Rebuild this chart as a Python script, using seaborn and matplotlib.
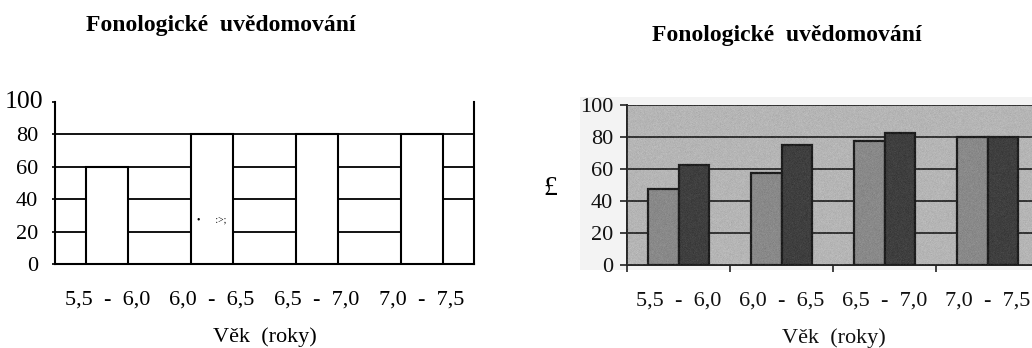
import numpy as np
import pandas as pd
import matplotlib
matplotlib.use("Agg")
import matplotlib.pyplot as plt
import matplotlib.transforms as mtransforms
import seaborn as sns
from matplotlib.patches import Rectangle

sns.set_theme(style="white")
plt.rcParams["font.family"] = ["Liberation Serif", "DejaVu Serif"]

# ---- data -------------------------------------------------------------
categories = ["5,5  -  6,0", "6,0  -  6,5", "6,5  -  7,0", "7,0  -  7,5"]
left_values = [60, 80, 80, 80]
series_a = [47.5, 57.5, 77.5, 80]
series_b = [62.5, 75, 82.5, 80]
series_names = ["A", "B"]
y_ticks = [0, 20, 40, 60, 80, 100]
grid_levels = [20, 40, 60, 80]

title = "Fonologické  uvědomování"
xlabel = "Věk  (roky)"

TICK_FS = 16
TITLE_FS = 17

fig = plt.figure(figsize=(10.32, 3.48), dpi=100)
fig.patch.set_facecolor("white")

# ---- left panel: outlined bars over a plain grid -----------------------
axL = fig.add_axes([55 / 1032, 1 - 264 / 348, 419 / 1032, 162 / 348])
axL.set_facecolor("white")
sns.barplot(x=categories, y=left_values, color="white", edgecolor="black",
            linewidth=1.5, width=0.4, saturation=1, ax=axL, zorder=3)
axL.set_xlim(-0.5, 3.5)
axL.set_ylim(0, 100)
for lvl in grid_levels:
    # the 20 line stops under the last bar
    end = 3.0 if lvl == 20 else 3.5
    axL.hlines(lvl, -0.5, end, color="black", lw=1.3, zorder=1)
for side in ["left", "right", "bottom"]:
    axL.spines[side].set_color("black")
    axL.spines[side].set_linewidth(1.5)
axL.spines["top"].set_visible(False)
axL.set_yticks(y_ticks)
# the top label is set larger and a little closer to the axis
axL.set_yticklabels([str(v) if v != y_ticks[-1] else "" for v in y_ticks])
axL.tick_params(axis="y", left=True, length=2, width=1.2, color="black",
                labelsize=TICK_FS, pad=10, labelcolor="black")
axL.tick_params(axis="x", bottom=False, labelsize=TICK_FS, pad=13, labelcolor="black")
top_tf = mtransforms.blended_transform_factory(axL.transAxes, axL.transData)
axL.text(-0.028, y_ticks[-1], str(y_ticks[-1]), transform=top_tf, fontsize=18.5,
         ha="right", va="center", color="black")
axL.set_xlabel(xlabel, fontsize=TICK_FS, color="black")
axL.xaxis.set_label_coords(0.5, -0.45)
axL.xaxis.label.set_va("center")
axL.set_ylabel("")
axL.text(1.0, 27, "•      :>;", fontsize=7, ha="center", va="center", color="black")
fig.text(221 / 1032, 1 - 26 / 348, title, fontsize=TITLE_FS, fontweight="bold",
         ha="center", va="center", color="black")

# ---- right panel: paired grey bars ------------------------------------
fig.patches.append(Rectangle((580 / 1032, 1 - 270 / 348), 452 / 1032, 173 / 348,
                             transform=fig.transFigure, facecolor="#f3f3f3",
                             edgecolor="none", zorder=-5))
axR = fig.add_axes([627 / 1032, 1 - 265 / 348, 412 / 1032, 160 / 348])
axR.set_facecolor("#bcbcbc")
df = pd.DataFrame({
    "kategorie": categories * 2,
    "hodnota": series_a + series_b,
    "skupina": [series_names[0]] * len(categories) + [series_names[1]] * len(categories),
})
sns.barplot(data=df, x="kategorie", y="hodnota", hue="skupina",
            palette=["#8a8a8a", "#363636"], edgecolor="#111111", linewidth=1.6,
            width=0.6, saturation=1, legend=False, ax=axR, zorder=3)
axR.set_xlim(-0.5, 3.5)
axR.set_ylim(0, 100)
for lvl in y_ticks[1:]:
    axR.axhline(lvl, color="#2a2a2a", lw=1.4, zorder=1)
for side in ["top", "right"]:
    axR.spines[side].set_visible(False)
for side in ["left", "bottom"]:
    axR.spines[side].set_color("#222222")
    axR.spines[side].set_linewidth(1.4)
axR.set_yticks(y_ticks)
axR.tick_params(axis="y", left=True, length=5, width=1.2, color="#222222",
                labelsize=TICK_FS, pad=5, labelcolor="#111111")
axR.set_xticks(np.arange(-0.5, 4.0, 1.0), minor=True)
axR.tick_params(axis="x", which="minor", bottom=True, length=5, width=1.2,
                color="#222222")
axR.tick_params(axis="x", which="major", bottom=False, labelsize=TICK_FS, pad=13,
                labelcolor="#111111")
axR.set_xlabel(xlabel, fontsize=TICK_FS, color="#111111")
axR.xaxis.set_label_coords(0.502, -0.456)
axR.xaxis.label.set_va("center")
axR.set_ylabel("£", fontsize=20, rotation=0, color="black", va="center", ha="center")
axR.yaxis.set_label_coords(-0.187, 0.48)

# fine print grain over the shaded panel
rng = np.random.default_rng(3)
grain = rng.normal(0, 1, (160, 420))
axR.imshow(grain, extent=(0, 1, 0, 1), transform=axR.transAxes, cmap="gray",
           alpha=0.12, aspect="auto", zorder=5, interpolation="nearest")
axR.set_xlim(-0.5, 3.5)
axR.set_ylim(0, 100)

fig.text(787 / 1032, 1 - 35 / 348, title, fontsize=TITLE_FS, fontweight="bold",
         ha="center", va="center", color="black")

fig.savefig("out.png", dpi=100, facecolor="white")
